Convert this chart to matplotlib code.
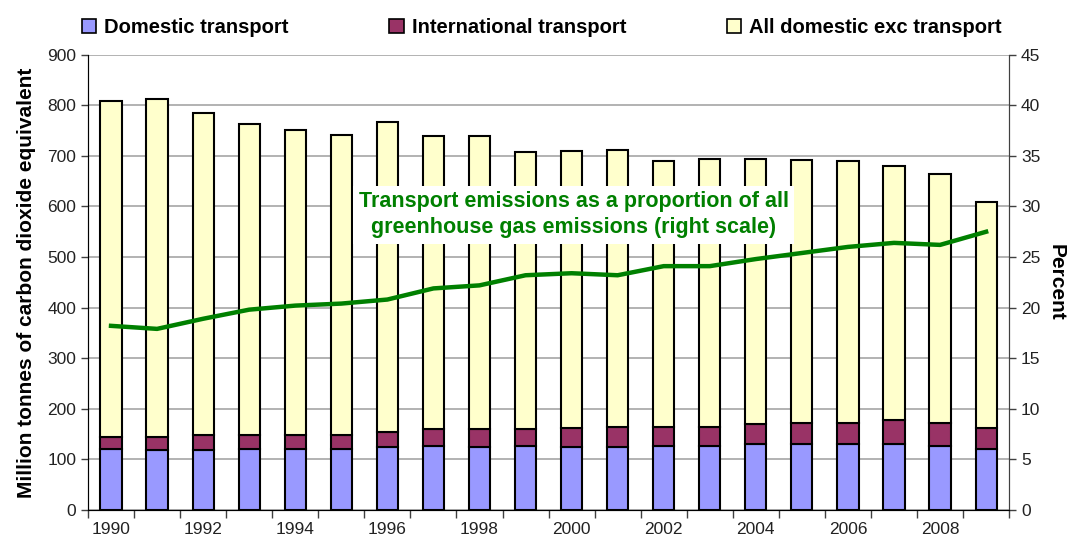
import numpy as np
import matplotlib.pyplot as plt
from matplotlib.patches import Patch

''' Data '''
years = list(range(1990, 2010))
domestic = [121, 118, 118, 121, 121, 121, 124, 126, 124, 126,
            124, 124, 126, 126, 130, 130, 130, 130, 126, 120]
international = [24, 27, 30, 28, 28, 28, 30, 34, 36, 34,
                 38, 40, 38, 38, 39, 42, 42, 48, 46, 43]
total = [808, 812, 785, 763, 751, 742, 766, 740, 740, 707,
         709, 712, 689, 694, 694, 692, 689, 679, 665, 608]
percent = [18.2, 17.9, 18.9, 19.8, 20.2, 20.4, 20.8, 21.9, 22.2, 23.2,
           23.4, 23.2, 24.1, 24.1, 24.8, 25.4, 26.0, 26.4, 26.2, 27.5]
other = [t - d - i for t, d, i in zip(total, domestic, international)]

labels = ['Domestic transport', 'International transport', 'All domestic exc transport']
colors = ['#9999FF', '#993366', '#FFFFCC']

''' Plot '''
plt.rcParams['font.family'] = ['Liberation Sans', 'DejaVu Sans']
fig = plt.figure(figsize=(10.77, 5.44), dpi=100)
ax = fig.add_axes([0.0817, 0.0625, 0.8553, 0.837])

x = np.arange(len(years))
w = 0.46
ax.bar(x, domestic, w, color=colors[0], edgecolor='black', linewidth=1.5, zorder=2)
ax.bar(x, international, w, bottom=domestic, color=colors[1], edgecolor='black', linewidth=1.5, zorder=2)
bot2 = [d + i for d, i in zip(domestic, international)]
ax.bar(x, other, w, bottom=bot2, color=colors[2], edgecolor='black', linewidth=1.5, zorder=2)

ax.set_xlim(-0.5, len(years) - 0.5)
ax.set_ylim(0, 900)
ax.set_yticks(range(0, 901, 100))
ax.yaxis.grid(True, color='#a6a6a6', linewidth=1.2, zorder=0)
ax.set_axisbelow(True)
ax.set_xticks(x[::2])
ax.set_xticklabels([str(y) for y in years[::2]])
ax.set_xticks(np.arange(-0.5, len(years), 1), minor=True)
ax.tick_params(axis='x', which='major', length=0, pad=9, labelsize=12.5, labelcolor='#222222')
ax.tick_params(axis='x', which='minor', length=6, width=1, color='#404040')
ax.tick_params(axis='y', length=5, width=1, color='#404040', labelsize=12.5, labelcolor='#222222')
ax.set_ylabel('Million tonnes of carbon dioxide equivalent', fontsize=15,
              fontweight='bold', labelpad=8)
ax.spines['top'].set_visible(False)
for s in ['left', 'bottom', 'right']:
    ax.spines[s].set_color('#404040')

ax2 = ax.twinx()
ax2.plot(x, percent, color='#008000', linewidth=3.2, zorder=3)
ax2.set_ylim(0, 45)
ax2.set_yticks(range(0, 46, 5))
ax2.tick_params(axis='y', length=5, width=1, color='#404040', labelsize=12.5, labelcolor='#222222')
ax2.spines['top'].set_visible(False)
ax2.spines['right'].set_color('#404040')
ax2.set_ylabel('Percent', fontsize=15, fontweight='bold', rotation=-90, labelpad=18)

ax2.text(10.05, 29.2, 'Transport emissions as a proportion of all\ngreenhouse gas emissions (right scale)',
         ha='center', va='center', color='#008000', fontsize=15.5, fontweight='bold',
         linespacing=1.3, zorder=5,
         bbox=dict(facecolor='white', edgecolor='none', pad=4))

handles = [Patch(facecolor=c, edgecolor='black', linewidth=1.2) for c in colors]
fig.legend(handles, labels, loc='upper center', bbox_to_anchor=(0.503, 1.0), ncol=3,
           frameon=False, prop={'weight': 'bold', 'size': 14.5},
           handlelength=0.7, handleheight=0.7, handletextpad=0.4, columnspacing=5.0)

fig.savefig('out.png', dpi=100)
